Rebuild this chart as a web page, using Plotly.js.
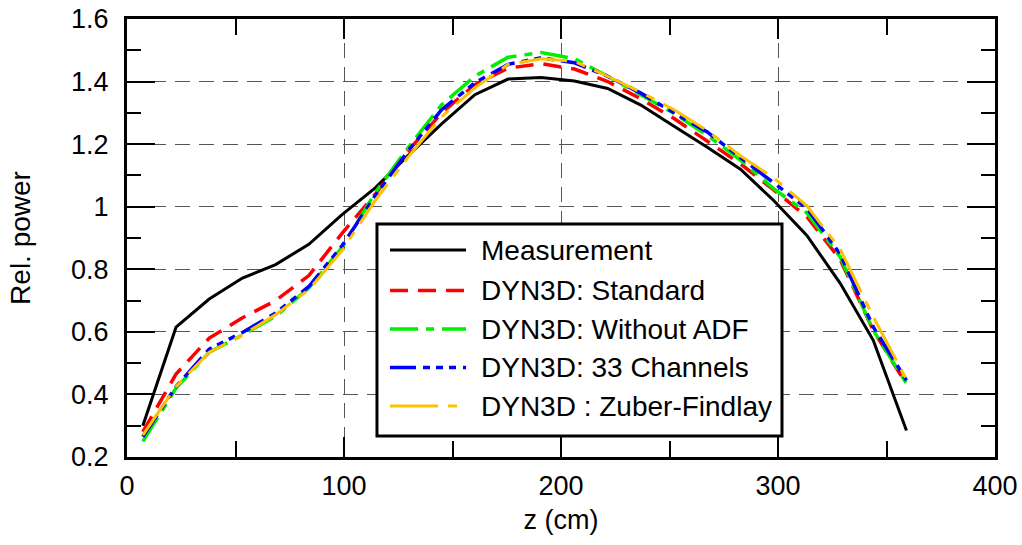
<!DOCTYPE html>
<html>
<head>
<meta charset="utf-8">
<script src="https://cdn.plot.ly/plotly-3.0.1.min.js"></script>
<style>html,body{margin:0;padding:0;background:#fff;}#chart{width:1022px;height:545px;}</style>
</head>
<body>
<div id="chart"></div>
<script>
const z = [7.3, 22.6, 37.9, 53.2, 68.5, 83.8, 99.1, 114.4, 129.7, 145.0, 160.3, 175.6, 190.9, 206.2, 221.5, 236.8, 252.1, 267.4, 282.7, 298.0, 313.3, 328.6, 343.9, 359.2];
const measurement = [0.30, 0.615, 0.705, 0.772, 0.815, 0.88, 0.975, 1.06, 1.165, 1.265, 1.358, 1.408, 1.413, 1.402, 1.378, 1.325, 1.257, 1.19, 1.12, 1.02, 0.908, 0.756, 0.573, 0.285];
const standard = [0.28, 0.465, 0.58, 0.645, 0.70, 0.78, 0.915, 1.04, 1.18, 1.30, 1.39, 1.443, 1.457, 1.44, 1.40, 1.345, 1.282, 1.211, 1.137, 1.054, 0.968, 0.832, 0.605, 0.432];
const withoutADF = [0.25, 0.42, 0.535, 0.59, 0.65, 0.74, 0.87, 1.045, 1.19, 1.326, 1.417, 1.478, 1.493, 1.473, 1.417, 1.358, 1.298, 1.228, 1.149, 1.058, 0.98, 0.84, 0.605, 0.435];
const channels33 = [0.265, 0.425, 0.545, 0.598, 0.66, 0.745, 0.875, 1.035, 1.18, 1.31, 1.396, 1.455, 1.476, 1.46, 1.417, 1.363, 1.30, 1.239, 1.157, 1.076, 0.995, 0.849, 0.616, 0.445];
const zuberFindlay = [0.27, 0.425, 0.535, 0.59, 0.655, 0.735, 0.86, 1.02, 1.16, 1.288, 1.38, 1.455, 1.473, 1.465, 1.417, 1.366, 1.31, 1.243, 1.163, 1.092, 1.003, 0.865, 0.648, 0.448];
const seriesNames = ['Measurement', 'DYN3D: Standard', 'DYN3D: Without ADF', 'DYN3D: 33 Channels', 'DYN3D : Zuber-Findlay'];
const xTicks = [0, 100, 200, 300, 400];
const yTicks = [0.2, 0.4, 0.6, 0.8, 1, 1.2, 1.4, 1.6];

const FONT = 'Liberation Sans, Arial, sans-serif';
const styles = [
  {color: '#000000', width: 3, dash: 'solid'},
  {color: '#ff0000', width: 3.5, dash: '18px,10px'},
  {color: '#00ee00', width: 3.5, dash: '28px,8px,8px,8px'},
  {color: '#0000ff', width: 3.5, dash: '26px,7px,7px,6px,7px,6px,7px,7px'},
  {color: '#ffc000', width: 3, dash: '48px,10px,9px,10px'}
];
const ys = [measurement, standard, withoutADF, channels33, zuberFindlay];
const traces = ys.map((y, i) => ({
  type: 'scatter', mode: 'lines', x: z, y: y, name: seriesNames[i],
  line: styles[i], showlegend: false
}));

// Legend drawn as a boxed key in paper coordinates
const legBox = {x0: 0.288, x1: 0.7546, y0: 0.0479, y1: 0.532};
const legRows = [0.4726, 0.3804, 0.2922, 0.2043, 0.1164];
const legLineX = [0.303, 0.3906];
const legTextX = 0.4055;
const shapes = [{
  type: 'rect', xref: 'paper', yref: 'paper', layer: 'above',
  x0: legBox.x0, x1: legBox.x1, y0: legBox.y0, y1: legBox.y1,
  fillcolor: '#fff', line: {color: '#000', width: 3}
}];
const annotations = [];
seriesNames.forEach((name, i) => {
  shapes.push({
    type: 'line', xref: 'paper', yref: 'paper', layer: 'above',
    x0: legLineX[0], x1: legLineX[1], y0: legRows[i], y1: legRows[i],
    line: {color: styles[i].color, width: styles[i].width, dash: styles[i].dash}
  });
  annotations.push({
    xref: 'paper', yref: 'paper', x: legTextX, y: legRows[i],
    xanchor: 'left', yanchor: 'middle', text: name, showarrow: false,
    font: {family: FONT, size: 28, color: '#000'}
  });
});

const layout = {
  width: 1022, height: 545,
  margin: {l: 127, r: 27, t: 19, b: 88},
  paper_bgcolor: '#fff', plot_bgcolor: '#fff',
  font: {family: FONT, size: 27, color: '#000'},
  showlegend: false,
  shapes: shapes, annotations: annotations,
  xaxis: {
    range: [0, 400], tickvals: xTicks, ticktext: xTicks.map(String),
    showline: true, linecolor: '#000', linewidth: 3, mirror: 'allticks',
    ticks: 'inside', ticklen: 20, tickwidth: 2, tickcolor: '#000',
    minor: {dtick: 50, tick0: 0, ticks: 'inside', ticklen: 16, tickwidth: 2, tickcolor: '#000', showgrid: false},
    showgrid: true, gridcolor: '#555', gridwidth: 1, griddash: '15px,9px',
    zeroline: false, ticklabelstandoff: 3,
    tickfont: {family: FONT, size: 27},
    title: {text: 'z (cm)', font: {family: FONT, size: 27}, standoff: 10}
  },
  yaxis: {
    range: [0.2, 1.6], tickvals: yTicks, ticktext: yTicks.map(v => String(v)),
    showline: true, linecolor: '#000', linewidth: 3, mirror: 'allticks',
    ticks: 'inside', ticklen: 28, tickwidth: 2, tickcolor: '#000',
    minor: {dtick: 0.1, tick0: 0.2, ticks: 'inside', ticklen: 14, tickwidth: 2, tickcolor: '#000', showgrid: false},
    showgrid: true, gridcolor: '#555', gridwidth: 1, griddash: '15px,9px',
    zeroline: false, ticklabelstandoff: 10,
    tickfont: {family: FONT, size: 27},
    title: {text: 'Rel. power', font: {family: FONT, size: 28}, standoff: 33}
  }
};
Plotly.newPlot('chart', traces, layout, {displayModeBar: false, staticPlot: true});
</script>
</body>
</html>
